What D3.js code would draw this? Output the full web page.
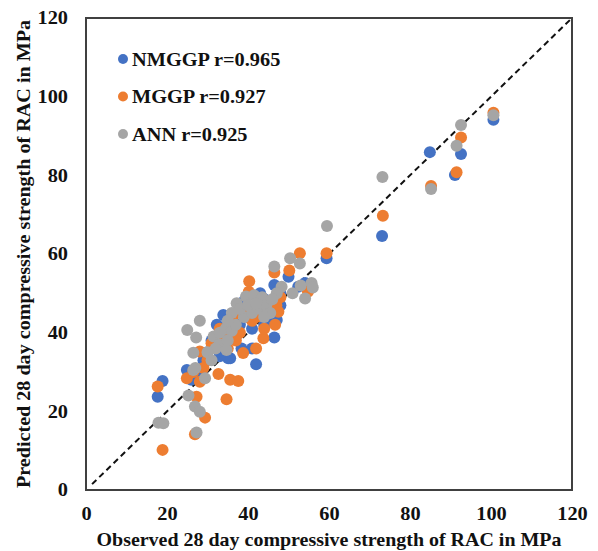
<!DOCTYPE html>
<html lang="en">
<head>
<meta charset="utf-8">
<title>Observed vs predicted strength</title>
<script src="https://cdn.jsdelivr.net/npm/d3@7"></script>
<style>
  body { margin: 0; background: #fff; }
  text { font-family: "Liberation Serif", "Times New Roman", serif; font-weight: bold; fill: #111; }
</style>
</head>
<body>
<script>
// observed / predicted pairs (MPa)
var nmggp = [[100.6,94.1],[92.6,85.4],[91.1,80.1],[84.9,85.9],[73.1,64.6],[59.4,58.9],[50.0,54.2],[46.5,52.1],
  [52.4,51.7],[54.1,52.6],[55.3,52.0],[43.8,48.7],[40.5,46.6],[47.1,43.2],[46.5,38.8],[42.0,32.0],[33.9,44.5],
  [32.3,42.0],[35.1,33.5],[38.4,36.0],[24.9,30.5],[28.8,30.7],[18.9,27.7],[17.7,23.7],[35.6,33.5],[36,40],
  [38,42],[40,44],[42,45],[44,46],[45,44],[41,41],[37,39],[34,37],[30,35],[44,42],[48,47],[39,48],[35,43],
  [31,38],[29,33],[27,29],[43,50],[46.7,46],[48,50],[41,36],[34,40],[37,45],[26,28],[33,34]];

var mggp = [[100.6,95.9],[92.6,89.6],[91.5,80.8],[85.2,77.3],[73.3,69.7],[59.4,60.2],[52.8,60.2],[46.5,55.3],
  [50.2,55.8],[40.3,53.1],[40.2,50.4],[55.3,51.3],[54.8,50.4],[47.5,45.3],[46.7,42.0],[43.8,38.6],[42.0,36.0],
  [38.8,34.8],[31.4,36.4],[31.0,37.3],[28.1,35.2],[24.9,28.4],[28.1,27.5],[32.7,29.5],[35.6,28.0],[37.6,27.7],
  [17.7,26.3],[27.3,23.7],[34.7,23.1],[29.4,18.4],[26.9,14.2],[18.9,10.2],[44.5,45.5],[42,44],[38,40],[36,42],
  [45,48],[43,47],[34,39],[33,41],[39,46],[37,38],[41,43],[48,49],[30,33],[26.5,30],[44,41],[47,47],[35,36],
  [36.5,44.5],[29,31]];

var ann = [[100.6,95.3],[92.6,92.8],[91.5,87.5],[85.2,76.5],[73.2,79.6],[59.5,67.1],[52.8,57.6],[50.4,58.9],
  [46.5,56.8],[48.3,51.7],[55.7,52.6],[54.1,48.7],[47.1,50.0],[39.5,49.2],[41.5,49.5],[43.5,49],[37.2,47.5],
  [28.1,43.0],[25.0,40.7],[27.2,38.8],[26.5,34.9],[26.5,30.5],[29.4,28.4],[25.3,24.0],[26.9,21.2],[28.1,19.9],
  [17.9,17.1],[19.1,17.0],[27.3,14.6],[31.5,39],[33,40],[34.5,41],[36,40.5],[33,37],[35,38],[32,36],[34.7,35.6],
  [37,42],[39,44],[41,45],[43,46],[44.5,47],[45.5,45],[38,46],[40,47],[42,47.5],[36,45],[35,43],[30,35],[31,33],
  [44,44],[46,48.5],[27,31],[56,51.5],[53,52],[51,50]];

var seriesNames = ["NMGGP r=0.965", "MGGP r=0.927", "ANN r=0.925"];
var seriesColors = ["#4472C4", "#ED7D31", "#A5A5A5"];
var ticks = [0, 20, 40, 60, 80, 100, 120];

var W = 598, H = 551;
var margin = {left: 86, top: 18, right: 26, bottom: 61};
var w = W - margin.left - margin.right;
var h = H - margin.top - margin.bottom;
var stretch = 1.13;

var svg = d3.select("body").append("svg")
  .attr("width", W).attr("height", H);

var g = svg.append("g")
  .attr("transform", "translate(" + margin.left + "," + margin.top + ")");

var x = d3.scaleLinear().domain([0, 120]).range([0, w]);
var y = d3.scaleLinear().domain([0, 120]).range([h, 0]);

// axes without tick marks, only labels
var xAxis = g.append("g")
  .attr("transform", "translate(0," + h + ")")
  .call(d3.axisBottom(x).tickValues(ticks).tickSize(0).tickPadding(17));
var yAxis = g.append("g")
  .call(d3.axisLeft(y).tickValues(ticks).tickSize(0).tickPadding(18));
[xAxis, yAxis].forEach(function(a) {
  a.select(".domain").remove();
  a.selectAll("text")
    .attr("font-size", 18)
    .attr("font-family", null)
    .style("fill", "#111");
});

// 1:1 line
g.append("line")
  .attr("x1", x(1.5)).attr("y1", y(1.5))
  .attr("x2", x(120)).attr("y2", y(120))
  .attr("stroke", "#111")
  .attr("stroke-width", 2)
  .attr("stroke-dasharray", "6,4");

// points
[nmggp, mggp, ann].forEach(function(data, i) {
  g.append("g").selectAll("circle")
    .data(data)
    .enter()
    .append("circle")
    .attr("cx", function(d) { return x(d[0]); })
    .attr("cy", function(d) { return y(d[1]); })
    .attr("r", 6)
    .attr("fill", seriesColors[i]);
});

// frame
g.append("rect")
  .attr("width", w).attr("height", h)
  .attr("fill", "none")
  .attr("stroke", "#404040")
  .attr("stroke-width", 2);

// legend
var legend = g.append("g").attr("transform", "translate(37,41)");
seriesNames.forEach(function(name, i) {
  var row = legend.append("g").attr("transform", "translate(0," + (i * 37.5) + ")");
  row.append("circle").attr("r", 5).attr("fill", seriesColors[i]);
  row.append("text").attr("class", "lg")
    .attr("x", 9).attr("y", 6.5)
    .attr("font-size", 18)
    .text(name);
});

// axis titles
svg.append("text")
  .attr("x", 329).attr("y", 546)
  .attr("text-anchor", "middle")
  .attr("font-size", 19)
  .attr("textLength", 465)
  .attr("lengthAdjust", "spacingAndGlyphs")
  .text("Observed 28 day compressive strength of RAC in MPa");

svg.append("text")
  .attr("transform", "translate(30,254) rotate(-90)")
  .attr("text-anchor", "middle")
  .attr("font-size", 19)
  .attr("textLength", 468)
  .attr("lengthAdjust", "spacingAndGlyphs")
  .text("Predicted 28 day compressive strength of RAC in MPa");

// the picture is slightly wider than tall, so stretch short labels a little
svg.selectAll(".tick text, text.lg").each(function() {
  var len = this.getComputedTextLength();
  d3.select(this).attr("textLength", len * stretch).attr("lengthAdjust", "spacingAndGlyphs");
});
</script>
</body>
</html>
